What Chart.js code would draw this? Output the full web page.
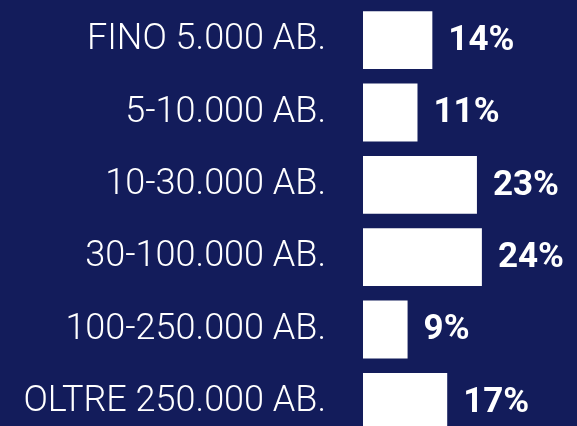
<!DOCTYPE html>
<html>
<head>
<meta charset="utf-8">
<script src="https://cdn.jsdelivr.net/npm/chart.js@4/dist/chart.umd.min.js"></script>
<style>
    html, body { margin: 0; padding: 0; background: #131c5b; overflow: hidden; }
    canvas { display: block; }
</style>
</head>
<body>
<canvas id="myBarChart" width="577" height="440"></canvas>
<script>
// Data
const categories = ['FINO 5.000 AB.', '5-10.000 AB.', '10-30.000 AB.', '30-100.000 AB.', '100-250.000 AB.', 'OLTRE 250.000 AB.'];
const shares = [14, 11, 23, 24, 9, 17];

// Value labels to the right of each bar
const valueLabels = {
    id: 'valueLabels',
    afterDatasetsDraw(chart) {
        const ctx = chart.ctx;
        const meta = chart.getDatasetMeta(0);
        ctx.save();
        ctx.fillStyle = '#ffffff';
        ctx.font = 'bold 35px Roboto';
        ctx.textAlign = 'left';
        ctx.textBaseline = 'middle';
        meta.data.forEach(function(bar, i) {
            ctx.fillText(shares[i] + '%', bar.x + 16, bar.y + 1);
        });
        ctx.restore();
    }
};

const ctxBar = document.getElementById('myBarChart').getContext('2d');
const myBarChart = new Chart(ctxBar, {
    type: 'bar',
    data: {
        labels: categories,
        datasets: [{
            data: shares,
            backgroundColor: '#ffffff',
            borderWidth: 0,
            categoryPercentage: 1,
            barPercentage: 0.8
        }]
    },
    options: {
        indexAxis: 'y',
        responsive: false,
        animation: false,
        layout: { padding: { top: 4, bottom: 2, right: 1, left: 0 } },
        plugins: {
            legend: { display: false },
            tooltip: { enabled: false }
        },
        scales: {
            x: {
                display: false,
                min: 0,
                max: 43
            },
            y: {
                grid: { display: false, drawTicks: false },
                border: { display: false },
                afterFit: function(scale) {
                    // keep the big tick padding from eating vertical space
                    scale.width = 363;
                    scale.paddingTop = 0;
                    scale.paddingBottom = 0;
                },
                ticks: {
                    color: '#ffffff',
                    font: { family: 'Roboto', size: 36, weight: '300' },
                    padding: 37
                }
            }
        }
    },
    plugins: [valueLabels]
});
</script>
</body>
</html>
